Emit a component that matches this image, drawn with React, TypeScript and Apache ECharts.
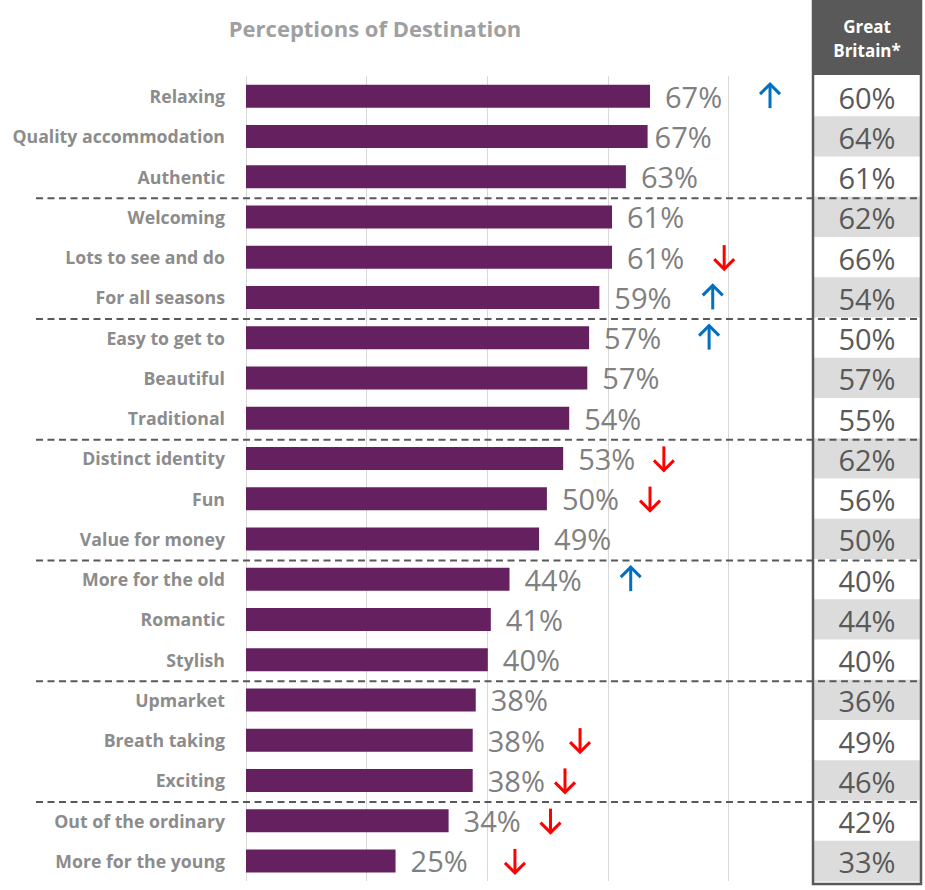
import React, { useEffect, useRef } from "react";
import * as echarts from "echarts";

const categories = [
  "Relaxing",
  "Quality accommodation",
  "Authentic",
  "Welcoming",
  "Lots to see and do",
  "For all seasons",
  "Easy to get to",
  "Beautiful",
  "Traditional",
  "Distinct identity",
  "Fun",
  "Value for money",
  "More for the old",
  "Romantic",
  "Stylish",
  "Upmarket",
  "Breath taking",
  "Exciting",
  "Out of the ordinary",
  "More for the young",
];

const values = [
  67.0, 66.6, 63.0, 60.7, 60.7, 58.6, 56.9, 56.6, 53.6, 52.6, 49.9, 48.6, 43.7,
  40.6, 40.1, 38.1, 37.6, 37.6, 33.6, 24.8,
];

const gbValues = [
  60, 64, 61, 62, 66, 54, 50, 57, 55, 62, 56, 50, 40, 44, 40, 36, 49, 46, 42, 33,
];

// arrows: row index, direction (1 up, -1 down), horizontal position in axis units
const arrowRows = [0, 4, 5, 6, 9, 10, 12, 16, 17, 18, 19];
const arrowDirs = [1, -1, 1, 1, -1, -1, 1, -1, -1, -1, -1];
const arrowX = [86.9, 79.3, 77.4, 76.8, 69.3, 67.0, 63.8, 55.4, 52.9, 50.5, 44.6];

// dashed separators placed before these row indices
const groupBreaks = [3, 6, 9, 12, 15, 18];

const xTicks = [0, 20, 40, 60, 80, 100];

const FONT = "'Open Sans', 'Noto Sans', sans-serif";

export default function App() {
  const ref = useRef<HTMLDivElement>(null);

  useEffect(() => {
    if (!ref.current) return;
    const chart = echarts.init(ref.current, undefined, { renderer: "svg" });

    const option: any = {
      animation: false,
      grid: { left: 246, right: 76, top: 76, bottom: 9, containLabel: false },
      xAxis: {
        type: "value",
        min: xTicks[0],
        max: xTicks[xTicks.length - 1],
        interval: xTicks[1] - xTicks[0],
        axisLabel: { show: false },
        axisLine: { show: false },
        axisTick: { show: false },
        splitLine: { show: true, lineStyle: { color: "#d9d9d9", width: 1 } },
      },
      yAxis: {
        type: "category",
        inverse: true,
        data: categories,
        axisLine: { show: false },
        axisTick: { show: false },
        splitLine: { show: false },
        axisLabel: {
          margin: 21,
          color: "#8c8c8c",
          fontFamily: FONT,
          fontWeight: "bold",
          fontSize: 17.7,
        },
      },
      graphic: [
        {
          type: "text",
          x: 375,
          y: 28,
          z: 20,
          style: {
            text: "Perceptions of Destination",
            fill: "#a0a0a0",
            font: `bold 22px ${FONT}`,
            textAlign: "center",
            textVerticalAlign: "middle",
          },
        },
        {
          type: "rect",
          z: 20,
          shape: { x: 812, y: 0, width: 110, height: 75 },
          style: { fill: "#595959" },
        },
        {
          type: "text",
          x: 867,
          y: 38,
          z: 21,
          style: {
            text: "Great\nBritain*",
            fill: "#ffffff",
            font: `bold 17px ${FONT}`,
            lineHeight: 24,
            textAlign: "center",
            textVerticalAlign: "middle",
          },
        },
        {
          type: "rect",
          z: 30,
          shape: { x: 813, y: -2, width: 108, height: 886 },
          style: { fill: "none", stroke: "#595959", lineWidth: 2.5 },
        },
      ],
      series: [
        {
          type: "bar",
          data: values.map((v, i) =>
            i === 1 ? { value: v, label: { distance: 7 } } : v
          ),
          barWidth: 23,
          itemStyle: { color: "#64205f" },
          z: 2,
          label: {
            show: true,
            position: "right",
            distance: 15,
            color: "#808080",
            fontFamily: FONT,
            fontSize: 29,
            formatter: (p: any) => Math.round(p.value) + "%",
          },
        },
        {
          type: "custom",
          z: 3,
          clip: false,
          encode: { x: 0, y: 1 },
          data: arrowRows.map((r, i) => [arrowX[i], r, arrowDirs[i]]),
          renderItem: (params: any, api: any) => {
            const p = api.coord([api.value(0), api.value(1)]);
            const up = api.value(2) > 0;
            const color = up ? "#0070c0" : "#ff0000";
            const h = 12;
            const w = 10;
            const tipY = up ? p[1] - h : p[1] + h;
            const armY = up ? tipY + w : tipY - w;
            return {
              type: "group",
              children: [
                {
                  type: "line",
                  shape: { x1: p[0], y1: p[1] - h + (up ? 1 : 0), x2: p[0], y2: p[1] + h - (up ? 0 : 1) },
                  style: { stroke: color, lineWidth: 3 },
                },
                {
                  type: "polyline",
                  shape: {
                    points: [
                      [p[0] - w, armY],
                      [p[0], tipY],
                      [p[0] + w, armY],
                    ],
                  },
                  style: { stroke: color, lineWidth: 3, fill: null },
                },
              ],
            };
          },
        },
        {
          type: "custom",
          z: 4,
          clip: false,
          encode: { x: 0, y: 1 },
          data: gbValues.map((v, i) => [0, i, v]),
          renderItem: (params: any, api: any) => {
            const idx = api.value(1);
            const c = api.coord([0, idx]);
            const h = api.size([0, 1])[1];
            const grey = idx % 2 === 1;
            return {
              type: "group",
              children: [
                {
                  type: "rect",
                  shape: { x: 813, y: c[1] - h / 2, width: 107, height: h + 0.5 },
                  style: { fill: grey ? "#dcdcdc" : "#ffffff" },
                },
                {
                  type: "text",
                  x: 867,
                  y: c[1] + 1,
                  style: {
                    text: api.value(2) + "%",
                    fill: "#595959",
                    font: `29px ${FONT}`,
                    textAlign: "center",
                    textVerticalAlign: "middle",
                  },
                },
              ],
            };
          },
        },
        {
          type: "custom",
          z: 6,
          clip: false,
          encode: { x: 0, y: 1 },
          data: groupBreaks.map((b) => [0, b]),
          renderItem: (params: any, api: any) => {
            const b = api.value(1);
            const y0 = api.coord([0, b - 1])[1];
            const y1 = api.coord([0, b])[1];
            const y = (y0 + y1) / 2 + 1.5;
            return {
              type: "line",
              shape: { x1: 36, y1: y, x2: 922, y2: y },
              style: { stroke: "#595959", lineWidth: 2, lineDash: [7, 4.5] },
            };
          },
        },
      ],
    };

    chart.setOption(option);
    return () => chart.dispose();
  }, []);

  return (
    <div
      ref={ref}
      style={{ position: "absolute", left: 0, top: 0, width: 925, height: 890 }}
    />
  );
}
